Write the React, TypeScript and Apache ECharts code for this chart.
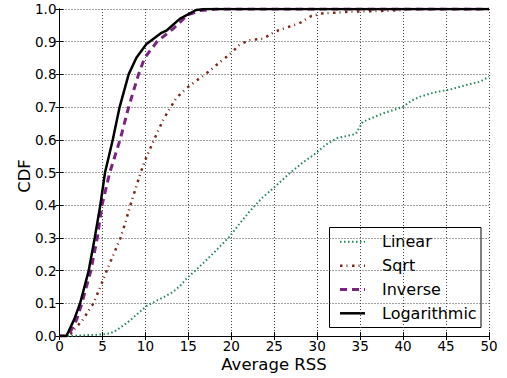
import React, { useEffect, useRef } from "react";
import * as echarts from "echarts";

const linearData: [number, number][] = [
  [0, 0], [1, 0], [5.1, 0.005], [5.9, 0.008], [6.6, 0.017], [8.0, 0.043], [9.4, 0.075],
  [10.2, 0.093], [11.3, 0.108], [12.2, 0.12], [13.2, 0.135], [14.0, 0.152], [14.8, 0.176],
  [16.3, 0.212], [17.9, 0.253], [19.8, 0.304], [21.0, 0.345], [22.2, 0.383], [23.5, 0.42],
  [25.1, 0.457], [26.8, 0.498], [28.3, 0.53], [29.9, 0.56], [31.0, 0.585], [32.3, 0.605],
  [34.5, 0.618], [35.3, 0.655], [37.7, 0.681], [40.0, 0.701], [41.0, 0.72], [42.0, 0.732],
  [43.5, 0.744], [45.5, 0.754], [47.4, 0.768], [49.0, 0.778], [50, 0.793],
];

const sqrtData: [number, number][] = [
  [0, 0], [1.2, 0], [1.5, 0.015], [2.6, 0.045], [3.95, 0.1], [4.75, 0.15], [5.5, 0.2],
  [6.3, 0.25], [7.1, 0.3], [7.7, 0.35], [8.25, 0.4], [8.85, 0.45], [9.45, 0.5], [10.1, 0.546],
  [10.7, 0.582], [11.35, 0.62], [12.05, 0.66], [12.8, 0.694], [13.6, 0.728], [14.7, 0.756],
  [16.1, 0.784], [17.3, 0.807], [18.6, 0.836], [19.8, 0.861], [21.0, 0.892], [22.2, 0.905],
  [23.7, 0.909], [25.1, 0.931], [26.4, 0.943], [27.9, 0.956], [29.35, 0.979], [30.7, 0.987],
  [32.3, 0.989], [33.8, 0.992], [35.6, 0.993], [38.5, 0.995], [40.0, 0.997], [40.4, 1], [50, 1],
];

const inverseData: [number, number][] = [
  [0, 0], [1.0, 0], [2.0, 0.05], [2.6, 0.1], [3.65, 0.2], [4.4, 0.3], [4.95, 0.4],
  [5.85, 0.5], [7.05, 0.6], [8.05, 0.7], [9.2, 0.8], [9.9, 0.85], [11.35, 0.9],
  [13.3, 0.941], [14.9, 0.982], [16.3, 0.995], [18.3, 1], [50, 1],
];

const logData: [number, number][] = [
  [0, 0], [0.8, 0], [1.7, 0.05], [2.4, 0.1], [3.4, 0.2], [4.1, 0.3], [4.75, 0.4],
  [5.3, 0.5], [6.2, 0.6], [7.0, 0.7], [8.05, 0.8], [8.95, 0.851], [10.1, 0.892],
  [11.8, 0.926], [12.5, 0.935], [14.0, 0.97], [15.9, 0.997], [17, 1], [50, 1],
];

const seriesNames = ["Linear", "Sqrt", "Inverse", "Logarithmic"];
const seriesColors = ["#22885a", "#7a2a1a", "#7b2382", "#000000"];
const seriesWidths = [2, 2.5, 3, 2.5];
const seriesDashes: (number[] | "solid")[] = [[1.5, 2.5], [2.5, 4, 1, 4.5], [7, 5], "solid"];
const seriesData = [linearData, sqrtData, inverseData, logData];

const xAxisName = "Average RSS";
const yAxisName = "CDF";
const FONT = "DejaVu Sans";

export default function App() {
  const ref = useRef<HTMLDivElement>(null);
  useEffect(() => {
    const chart = echarts.init(ref.current!, null, { renderer: "svg" });
    const gridLeft = 59.5, gridTop = 9, gridRight = 18, gridBottom = 42;
    const tick = { show: true, inside: true, length: 4, lineStyle: { color: "#000", width: 1 } };
    const axisLine = { show: true, lineStyle: { color: "#000", width: 1 } };
    const split = { show: true, lineStyle: { color: "#444", width: 1, type: [1, 2] as any } };

    const legendTop = 227.5, legendLeft = 329.5, legendW = 151.5, legendH = 100;
    const rowY = [241.8, 265.7, 289.5, 313.3];
    const legendChildren: any[] = [
      { type: "rect", shape: { x: legendLeft, y: legendTop, width: legendW, height: legendH }, style: { fill: "#fff", stroke: "#000", lineWidth: 1 } },
    ];
    seriesNames.forEach((n, i) => {
      legendChildren.push({
        type: "line",
        shape: { x1: 340, y1: rowY[i], x2: 365, y2: rowY[i] },
        style: {
          stroke: seriesColors[i],
          lineWidth: seriesWidths[i],
          lineDash: seriesDashes[i] === "solid" ? null : seriesDashes[i],
        },
      });
      legendChildren.push({
        type: "text",
        x: 382,
        y: rowY[i],
        style: { text: n, fill: "#000", font: `16px '${FONT}'`, lineHeight: 16, verticalAlign: "middle", align: "left" },
      });
    });

    chart.setOption({
      animation: false,
      backgroundColor: "#fff",
      grid: { left: gridLeft, top: gridTop, right: gridRight, bottom: gridBottom, containLabel: false, outerBoundsMode: "none" },
      xAxis: [
        {
          type: "value", min: 0, max: 50, interval: 5, position: "bottom",
          axisLine, axisTick: tick, splitLine: split,
          axisLabel: { color: "#000", fontSize: 13.5, lineHeight: 13, fontFamily: FONT, margin: 3.5 },
        },
        {
          type: "value", min: 0, max: 50, interval: 5, position: "top",
          axisLine, axisTick: tick, splitLine: { show: false }, axisLabel: { show: false },
        },
      ],
      yAxis: [
        {
          type: "value", min: 0, max: 1, interval: 0.1, position: "left",
          axisLine, axisTick: tick, splitLine: split,
          axisLabel: { color: "#000", fontSize: 13.5, fontFamily: FONT, margin: 3, formatter: (v: number) => v.toFixed(1) },
        },
        {
          type: "value", min: 0, max: 1, interval: 0.1, position: "right",
          axisLine, axisTick: tick, splitLine: { show: false }, axisLabel: { show: false },
        },
      ],
      series: seriesNames.map((n, i) => ({
        name: n,
        type: "line",
        xAxisIndex: 0,
        yAxisIndex: 0,
        data: seriesData[i],
        showSymbol: false,
        symbol: "none",
        z: 2 + i,
        lineStyle: { color: seriesColors[i], width: seriesWidths[i], type: seriesDashes[i] as any, cap: "butt" },
      })),
      graphic: [
        {
          type: "text", x: 274, y: 364,
          style: { text: xAxisName, fill: "#000", font: `16.5px '${FONT}'`, lineHeight: 14, align: "center", verticalAlign: "middle" },
        },
        {
          type: "text", x: 24, y: 176, rotation: Math.PI / 2,
          style: { text: yAxisName, fill: "#000", font: `16.5px '${FONT}'`, lineHeight: 16, align: "center", verticalAlign: "middle" },
        },
        { type: "group", z: 100, children: legendChildren },
      ],
    });
    return () => chart.dispose();
  }, []);
  return <div ref={ref} style={{ position: "fixed", left: 0, top: 0, width: 507, height: 378 }} />;
}
